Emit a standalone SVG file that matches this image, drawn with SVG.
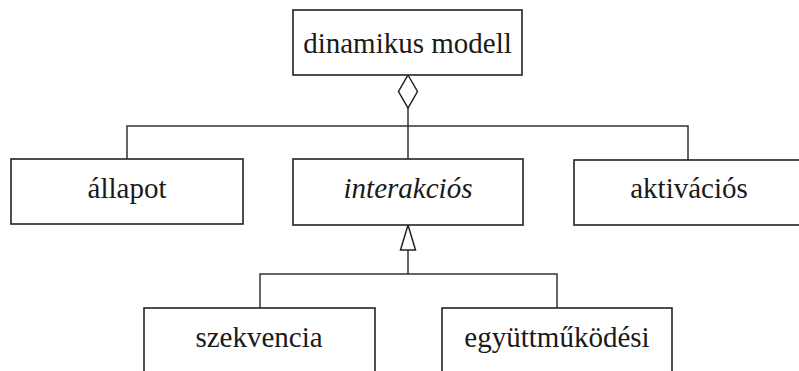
<svg xmlns="http://www.w3.org/2000/svg" width="799" height="371" viewBox="0 0 799 371">
  <style>
    .box { fill: #ffffff; stroke: #222222; stroke-width: 1.6; }
    .wire { fill: none; stroke: #333333; stroke-width: 1.5; }
    .head { fill: #ffffff; stroke: #222222; stroke-width: 1.5; }
    .ntext { font-family: "Liberation Serif", "Times New Roman", "Noto Serif", "DejaVu Serif", serif; font-size: 29px; fill: #1a1a1a; text-anchor: middle; }
    .abstract { font-style: italic; }
  </style>
  <rect width="799" height="371" fill="#ffffff"/>

  <!-- connectors -->
  <g id="connectors">
    <!-- aggregation: dynamic model consists of three views -->
    <polyline class="wire" points="408,108 408,126"/>
    <polyline class="wire" points="127,159 127,126 688,126 688,160"/>
    <polyline class="wire" points="408,126 408,159"/>
    <polygon class="head" points="408,75 417.5,91.5 408,108 398.5,91.5"/>
    <!-- generalization: interaction diagrams -->
    <polyline class="wire" points="260,308 260,274 557,274 557,308"/>
    <polyline class="wire" points="408,250 408,274"/>
    <polygon class="head" points="408,225 415.5,250 400.5,250"/>
  </g>

  <g id="dinamikus-modell">
    <rect class="box" x="293" y="10" width="229" height="65"/>
    <text class="ntext" x="407.5" y="53">dinamikus modell</text>
  </g>

  <g id="allapot">
    <rect class="box" x="11" y="159" width="232" height="65"/>
    <text class="ntext" x="127" y="198">állapot</text>
  </g>

  <g id="interakcios">
    <rect class="box" x="293" y="159" width="230" height="66"/>
    <text class="ntext abstract" x="408" y="198">interakciós</text>
  </g>

  <g id="aktivacios">
    <rect class="box" x="574" y="160" width="240" height="65"/>
    <text class="ntext" x="689" y="198">aktivációs</text>
  </g>

  <g id="szekvencia">
    <rect class="box" x="144" y="308" width="231" height="80"/>
    <text class="ntext" x="259" y="347">szekvencia</text>
  </g>

  <g id="egyuttmukodesi">
    <rect class="box" x="442" y="308" width="230" height="80"/>
    <text class="ntext" x="557" y="347">együttműködési</text>
  </g>
</svg>
